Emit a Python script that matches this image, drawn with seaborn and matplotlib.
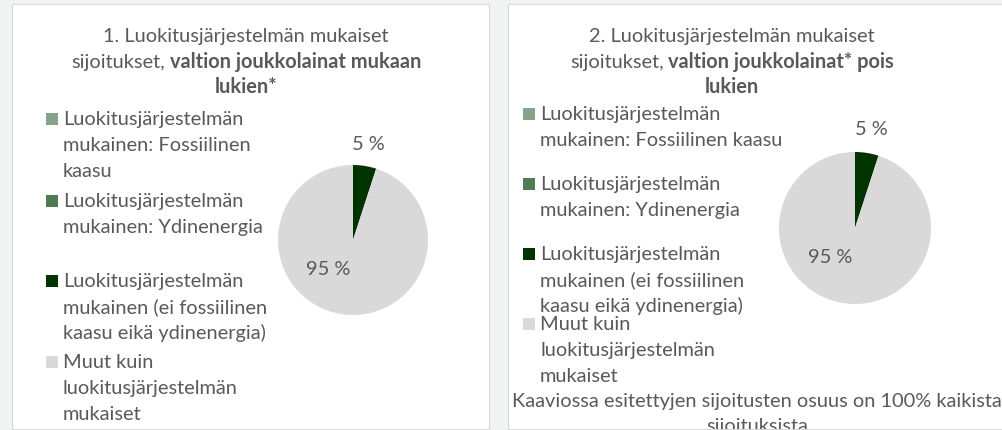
import numpy as np
import pandas as pd
import matplotlib.pyplot as plt
import seaborn as sns
from matplotlib.patches import Rectangle

sns.set_theme(style="white")
plt.rcParams['font.family'] = ['Lato', 'DejaVu Sans']

# --- data ---
categories = [
    "Luokitusjärjestelmän\nmukainen: Fossiilinen\nkaasu",
    "Luokitusjärjestelmän\nmukainen: Ydinenergia",
    "Luokitusjärjestelmän\nmukainen (ei fossiilinen\nkaasu eikä ydinenergia)",
    "Muut kuin\nluokitusjärjestelmän\nmukaiset",
]
categories_2 = [
    "Luokitusjärjestelmän\nmukainen: Fossiilinen kaasu",
    "Luokitusjärjestelmän\nmukainen: Ydinenergia",
    "Luokitusjärjestelmän\nmukainen (ei fossiilinen\nkaasu eikä ydinenergia)",
    "Muut kuin\nluokitusjärjestelmän\nmukaiset",
]
share_incl = [0, 0, 5, 95]   # valtion joukkolainat mukaan lukien
share_excl = [0, 0, 5, 95]   # valtion joukkolainat pois lukien
colors = ["#86A38B", "#4E7A55", "#003300", "#D9D9D9"]

title_1 = [[("1. Luokitusjärjestelmän mukaiset", "normal")],
           [("sijoitukset,", "normal"), ("valtion joukkolainat mukaan", "bold")],
           [("lukien*", "bold")]]
title_2 = [[("2. Luokitusjärjestelmän mukaiset", "normal")],
           [("sijoitukset,", "normal"), ("valtion joukkolainat* pois", "bold")],
           [("lukien", "bold")]]
footer = "Kaaviossa esitettyjen sijoitusten osuus on 100% kaikista\nsijoituksista"

TXT = "#595959"
FS = 14.4
W, H = 1003, 430

fig = plt.figure(figsize=(W / 100, H / 100), dpi=100)
fig.patch.set_facecolor("#F1F3F3")


def fx(px):
    return px / W


def fy(py):
    return 1 - py / H


# panels (behind everything else)
panels = []
for x0, x1 in [(12, 489), (508, 1012)]:
    r = Rectangle((fx(x0), fy(429)), fx(x1) - fx(x0), (429 - 4) / H,
                  transform=fig.transFigure, facecolor="white",
                  edgecolor="#D9D9D9", lw=0.8, zorder=-5)
    fig.patches.append(r)
    panels.append(r)

renderer = fig.canvas.get_renderer()


def mixed_line(xc, yb, parts):
    texts = [fig.text(0, fy(yb), s, fontsize=FS, fontweight=w, color=TXT, va="baseline")
             for s, w in parts]
    widths = [t.get_window_extent(renderer).width for t in texts]
    gap = 0.25 * FS * 100 / 72
    x = xc - (sum(widths) + gap * (len(widths) - 1)) / 2
    for t, w in zip(texts, widths):
        t.set_x(fx(x))
        x += w + gap


def draw_pie(values, cx, cy, r, lbl_pos):
    ax = fig.add_axes([fx(cx - r), fy(cy + r), 2 * r / W, 2 * r / H])
    ax.set_zorder(2)
    ax.pie(values, colors=colors, startangle=90, counterclock=False,
           wedgeprops=dict(linewidth=0))
    ax.set_xlim(-1, 1)
    ax.set_ylim(-1, 1)
    for v, pos in zip(values, lbl_pos):
        if pos is None:
            continue
        ax.text(pos[0], pos[1], f"{v} %", fontsize=FS, color=TXT,
                ha="center", va="baseline", clip_on=False)
    return ax


def draw_legend(labels, x_box, first_baselines):
    for lab, c, yb in zip(labels, colors, first_baselines):
        fig.patches.append(Rectangle((fx(x_box), fy(yb)), 12 / W, 12 / H,
                                     transform=fig.transFigure, facecolor=c, lw=0))
        for i, line in enumerate(lab.split("\n")):
            fig.text(fx(x_box + 17), fy(yb + i * 26), line, fontsize=FS,
                     color=TXT, va="baseline")


# panel 1
for line, yb in zip(title_1, [42, 68, 93]):
    mixed_line(246, yb, line)
draw_pie(share_incl, 353, 240, 75, [None, None, (0.2, 1.2), (-0.33, -0.47)])
draw_legend(categories, 46, [125, 207, 287, 368])

# panel 2
for line, yb in zip(title_2, [42, 68, 93]):
    mixed_line(732, yb, line)
draw_pie(share_excl, 855, 228, 76, [None, None, (0.22, 1.22), (-0.33, -0.46)])
draw_legend(categories_2, 523, [120, 190, 260, 330])

for i, line in enumerate(footer.split("\n")):
    t = fig.text(fx(757), fy(407 + i * 25), line, fontsize=FS, color=TXT,
                 ha="center", va="baseline")
    t.set_clip_path(panels[1])

fig.savefig("out.png", dpi=100, facecolor=fig.get_facecolor())
